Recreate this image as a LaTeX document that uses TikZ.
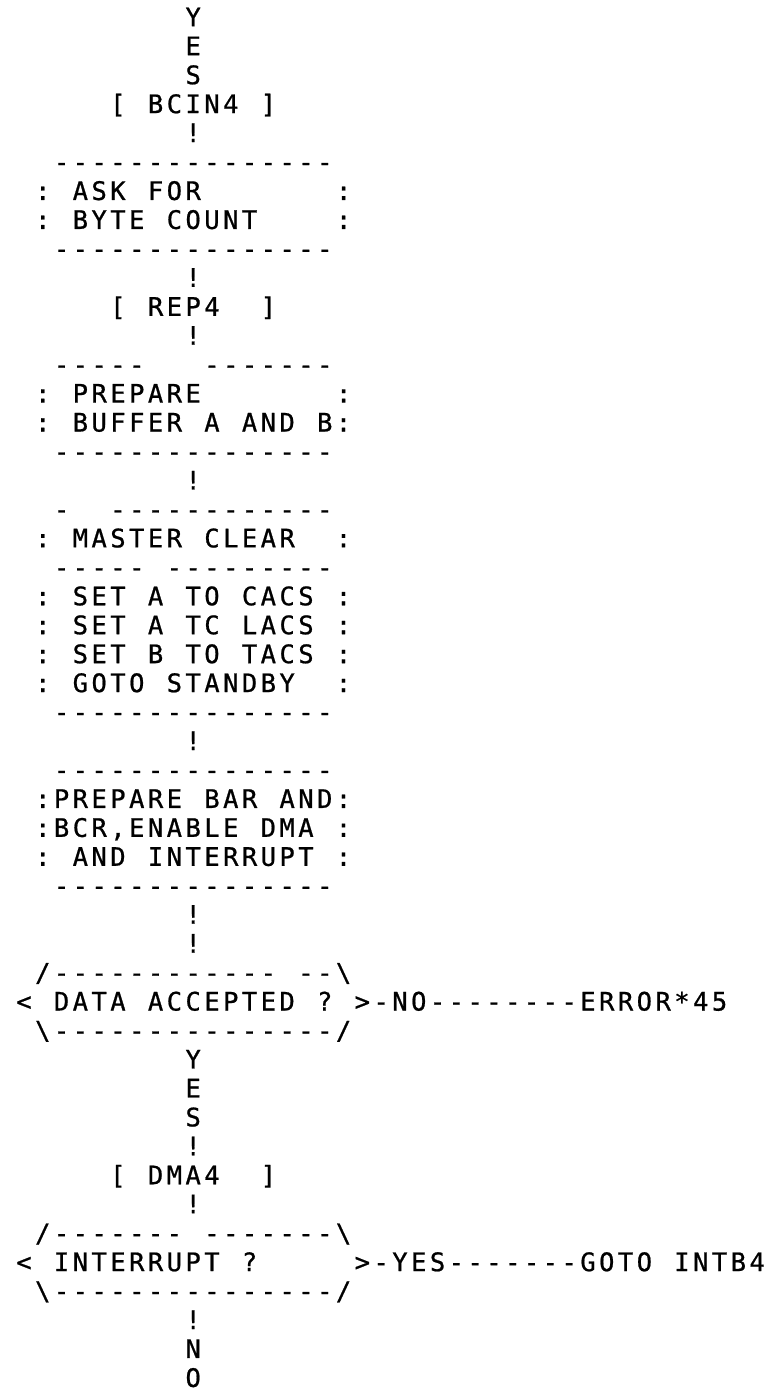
\documentclass[tikz,border=0pt]{standalone}
\usepackage{fontspec}
\newfontfamily\lpfont[FakeStretch=1.0,FakeBold=0.8]{DejaVu Sans Mono}
\ExplSyntaxOn
\dim_new:N \l_lp_pitch_dim
\dim_set:Nn \l_lp_pitch_dim {18.8pt}
\NewDocumentCommand\lp{m}{
  \str_map_inline:nn {#1}
  {
    \str_case:nnF {##1}
    {
      {.}{\hbox_to_wd:nn {\l_lp_pitch_dim}{\hfil}}
      {|}{\hbox_to_wd:nn {\l_lp_pitch_dim}{\hfil\textbackslash\hfil}}
    }
    {\hbox_to_wd:nn {\l_lp_pitch_dim}{\hfil ##1\hfil}}
  }
}
\ExplSyntaxOff
\begin{document}
\begin{tikzpicture}[x=1pt,y=-1pt,
  row/.style={anchor=base west, inner sep=0pt, outer sep=0pt,
    font=\lpfont\fontsize{25.5pt}{25.5pt}\selectfont}]
\useasboundingbox (0,0) rectangle (774,1394);
\def\X{14.6}
\def\Y#1{26.25+#1*28.95}
\node[row] (r0)  at (\X,{\Y{0}})  {\lp{.........Y}};
\node[row] (r1)  at (\X,{\Y{1}})  {\lp{.........E}};
\node[row] (r2)  at (\X,{\Y{2}})  {\lp{.........S}};
\node[row] (r3)  at (\X,{\Y{3}})  {\lp{.....[.BCIN4.]}};
\node[row] (r4)  at (\X,{\Y{4}})  {\lp{.........!}};
\node[row] (r5)  at (\X,{\Y{5}})  {\lp{..---------------}};
\node[row] (r6)  at (\X,{\Y{6}})  {\lp{.:.ASK.FOR.......:}};
\node[row] (r7)  at (\X,{\Y{7}})  {\lp{.:.BYTE.COUNT....:}};
\node[row] (r8)  at (\X,{\Y{8}})  {\lp{..---------------}};
\node[row] (r9)  at (\X,{\Y{9}})  {\lp{.........!}};
\node[row] (r10) at (\X,{\Y{10}}) {\lp{.....[.REP4..]}};
\node[row] (r11) at (\X,{\Y{11}}) {\lp{.........!}};
\node[row] (r12) at (\X,{\Y{12}}) {\lp{..-----...-------}};
\node[row] (r13) at (\X,{\Y{13}}) {\lp{.:.PREPARE.......:}};
\node[row] (r14) at (\X,{\Y{14}}) {\lp{.:.BUFFER.A.AND.B:}};
\node[row] (r15) at (\X,{\Y{15}}) {\lp{..---------------}};
\node[row] (r16) at (\X,{\Y{16}}) {\lp{.........!}};
\node[row] (r17) at (\X,{\Y{17}}) {\lp{..-..------------}};
\node[row] (r18) at (\X,{\Y{18}}) {\lp{.:.MASTER.CLEAR..:}};
\node[row] (r19) at (\X,{\Y{19}}) {\lp{..-----.---------}};
\node[row] (r20) at (\X,{\Y{20}}) {\lp{.:.SET.A.TO.CACS.:}};
\node[row] (r21) at (\X,{\Y{21}}) {\lp{.:.SET.A.TC.LACS.:}};
\node[row] (r22) at (\X,{\Y{22}}) {\lp{.:.SET.B.TO.TACS.:}};
\node[row] (r23) at (\X,{\Y{23}}) {\lp{.:.GOTO.STANDBY..:}};
\node[row] (r24) at (\X,{\Y{24}}) {\lp{..---------------}};
\node[row] (r25) at (\X,{\Y{25}}) {\lp{.........!}};
\node[row] (r26) at (\X,{\Y{26}}) {\lp{..---------------}};
\node[row] (r27) at (\X,{\Y{27}}) {\lp{.:PREPARE.BAR.AND:}};
\node[row] (r28) at (\X,{\Y{28}}) {\lp{.:BCR,ENABLE.DMA.:}};
\node[row] (r29) at (\X,{\Y{29}}) {\lp{.:.AND.INTERRUPT.:}};
\node[row] (r30) at (\X,{\Y{30}}) {\lp{..---------------}};
\node[row] (r31) at (\X,{\Y{31}}) {\lp{.........!}};
\node[row] (r32) at (\X,{\Y{32}}) {\lp{.........!}};
\node[row] (r33) at (\X,{\Y{33}}) {\lp{./------------.--|}};
\node[row] (r34) at (\X,{\Y{34}}) {\lp{<.DATA.ACCEPTED.?.>-NO--------ERROR*45}};
\node[row] (r35) at (\X,{\Y{35}}) {\lp{.|---------------/}};
\node[row] (r36) at (\X,{\Y{36}}) {\lp{.........Y}};
\node[row] (r37) at (\X,{\Y{37}}) {\lp{.........E}};
\node[row] (r38) at (\X,{\Y{38}}) {\lp{.........S}};
\node[row] (r39) at (\X,{\Y{39}}) {\lp{.........!}};
\node[row] (r40) at (\X,{\Y{40}}) {\lp{.....[.DMA4..]}};
\node[row] (r41) at (\X,{\Y{41}}) {\lp{.........!}};
\node[row] (r42) at (\X,{\Y{42}}) {\lp{./-------.-------|}};
\node[row] (r43) at (\X,{\Y{43}}) {\lp{<.INTERRUPT.?.....>-YES-------GOTO.INTB4}};
\node[row] (r44) at (\X,{\Y{44}}) {\lp{.|---------------/}};
\node[row] (r45) at (\X,{\Y{45}}) {\lp{.........!}};
\node[row] (r46) at (\X,{\Y{46}}) {\lp{.........N}};
\node[row] (r47) at (\X,{\Y{47}}) {\lp{.........O}};
\end{tikzpicture}
\end{document}
